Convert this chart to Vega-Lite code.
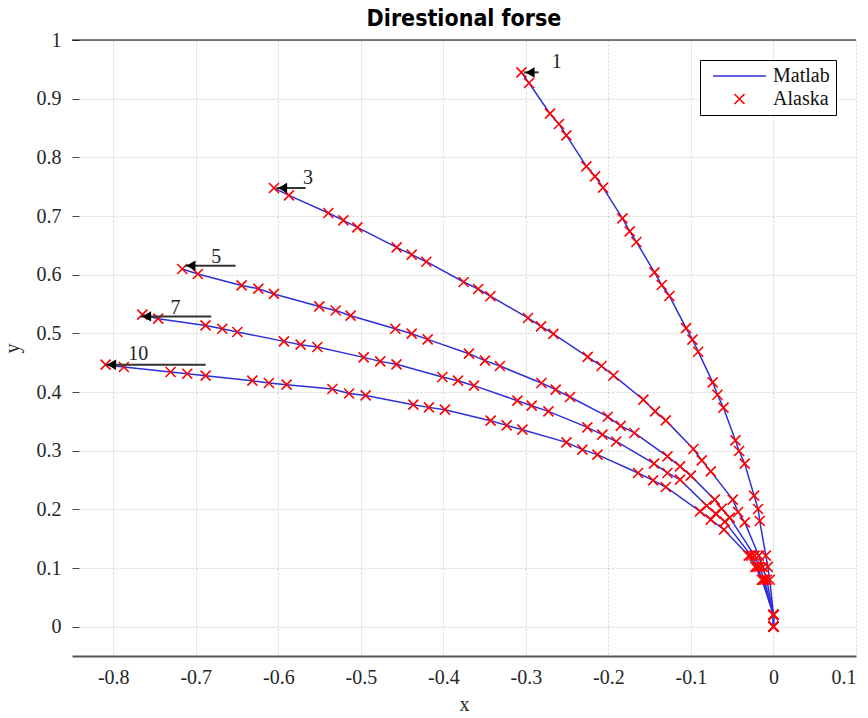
{
  "$schema": "https://vega.github.io/schema/vega-lite/v6.json",
  "width": 784,
  "height": 616,
  "autosize": {"type": "none"},
  "padding": {"left": 72, "top": 40, "right": 12, "bottom": 62},
  "background": "white",
  "config": {"view": {"stroke": null}},
  "title": {"text": "Direstional forse", "font": "Liberation Sans Narrow, DejaVu Sans Condensed, sans-serif", "fontSize": 23, "fontWeight": "bold", "color": "black", "anchor": "middle", "offset": 8, "dy": 9},
  "datasets": {
    "curves": [
      {"c":"1","x":-0.3055,"y":0.9448},{"c":"1","x":-0.2962,"y":0.9267},{"c":"1","x":-0.2708,"y":0.8744},{"c":"1","x":-0.2599,"y":0.8568},{"c":"1","x":-0.2509,"y":0.8374},{"c":"1","x":-0.2267,"y":0.7846},{"c":"1","x":-0.2162,"y":0.7675},{"c":"1","x":-0.2065,"y":0.7483},{"c":"1","x":-0.1830,"y":0.6959},{"c":"1","x":-0.1742,"y":0.6738},{"c":"1","x":-0.1661,"y":0.6557},{"c":"1","x":-0.1442,"y":0.6039},{"c":"1","x":-0.1354,"y":0.5824},{"c":"1","x":-0.1261,"y":0.5637},{"c":"1","x":-0.1059,"y":0.5088},{"c":"1","x":-0.0982,"y":0.4892},{"c":"1","x":-0.0912,"y":0.4687},{"c":"1","x":-0.0736,"y":0.4164},{"c":"1","x":-0.0679,"y":0.3954},{"c":"1","x":-0.0606,"y":0.3733},{"c":"1","x":-0.0461,"y":0.3175},{"c":"1","x":-0.0417,"y":0.2995},{"c":"1","x":-0.0348,"y":0.2778},{"c":"1","x":-0.0235,"y":0.2233},{"c":"1","x":-0.0187,"y":0.2006},{"c":"1","x":-0.0166,"y":0.1802},{"c":"1","x":-0.0093,"y":0.121},{"c":"1","x":-0.0069,"y":0.102},{"c":"1","x":-0.0045,"y":0.080},{"c":"1","x":0,"y":0.02},{"c":"1","x":0,"y":0},
      {"c":"3","x":-0.6053,"y":0.7477},{"c":"3","x":-0.5871,"y":0.7351},{"c":"3","x":-0.5394,"y":0.7051},{"c":"3","x":-0.5212,"y":0.6925},{"c":"3","x":-0.5042,"y":0.6806},{"c":"3","x":-0.4566,"y":0.6465},{"c":"3","x":-0.4384,"y":0.6341},{"c":"3","x":-0.4206,"y":0.6221},{"c":"3","x":-0.3754,"y":0.5875},{"c":"3","x":-0.3578,"y":0.5756},{"c":"3","x":-0.3430,"y":0.5633},{"c":"3","x":-0.2975,"y":0.5262},{"c":"3","x":-0.2817,"y":0.5118},{"c":"3","x":-0.2667,"y":0.4991},{"c":"3","x":-0.2251,"y":0.4599},{"c":"3","x":-0.2084,"y":0.4443},{"c":"3","x":-0.1939,"y":0.4282},{"c":"3","x":-0.1576,"y":0.3869},{"c":"3","x":-0.1435,"y":0.3670},{"c":"3","x":-0.1305,"y":0.3516},{"c":"3","x":-0.0970,"y":0.3029},{"c":"3","x":-0.0869,"y":0.2834},{"c":"3","x":-0.0760,"y":0.2647},{"c":"3","x":-0.0493,"y":0.2165},{"c":"3","x":-0.0429,"y":0.1955},{"c":"3","x":-0.0348,"y":0.1778},{"c":"3","x":-0.0178,"y":0.121},{"c":"3","x":-0.0130,"y":0.102},{"c":"3","x":-0.0081,"y":0.080},{"c":"3","x":0,"y":0.02},{"c":"3","x":0,"y":0},
      {"c":"5","x":-0.7164,"y":0.6097},{"c":"5","x":-0.6975,"y":0.6012},{"c":"5","x":-0.6445,"y":0.5817},{"c":"5","x":-0.6242,"y":0.5761},{"c":"5","x":-0.6053,"y":0.5672},{"c":"5","x":-0.5503,"y":0.5459},{"c":"5","x":-0.5305,"y":0.5389},{"c":"5","x":-0.5124,"y":0.5301},{"c":"5","x":-0.4582,"y":0.5079},{"c":"5","x":-0.4384,"y":0.4994},{"c":"5","x":-0.4190,"y":0.4897},{"c":"5","x":-0.3690,"y":0.4653},{"c":"5","x":-0.3496,"y":0.4534},{"c":"5","x":-0.3315,"y":0.4443},{"c":"5","x":-0.2812,"y":0.4154},{"c":"5","x":-0.2639,"y":0.4040},{"c":"5","x":-0.2465,"y":0.3915},{"c":"5","x":-0.2008,"y":0.3579},{"c":"5","x":-0.1851,"y":0.3423},{"c":"5","x":-0.1685,"y":0.3302},{"c":"5","x":-0.1285,"y":0.2903},{"c":"5","x":-0.1132,"y":0.2732},{"c":"5","x":-0.1002,"y":0.2574},{"c":"5","x":-0.0712,"y":0.2165},{"c":"5","x":-0.0627,"y":0.2011},{"c":"5","x":-0.0530,"y":0.1858},{"c":"5","x":-0.0230,"y":0.121},{"c":"5","x":-0.0170,"y":0.102},{"c":"5","x":-0.0110,"y":0.080},{"c":"5","x":0,"y":0.02},{"c":"5","x":0,"y":0},
      {"c":"7","x":-0.7648,"y":0.5318},{"c":"7","x":-0.7455,"y":0.5250},{"c":"7","x":-0.6882,"y":0.5135},{"c":"7","x":-0.6679,"y":0.5079},{"c":"7","x":-0.6497,"y":0.5023},{"c":"7","x":-0.5932,"y":0.4863},{"c":"7","x":-0.5730,"y":0.4807},{"c":"7","x":-0.5527,"y":0.4767},{"c":"7","x":-0.4966,"y":0.4590},{"c":"7","x":-0.4765,"y":0.4522},{"c":"7","x":-0.4568,"y":0.4472},{"c":"7","x":-0.4012,"y":0.4256},{"c":"7","x":-0.3823,"y":0.4193},{"c":"7","x":-0.3629,"y":0.4108},{"c":"7","x":-0.3103,"y":0.3852},{"c":"7","x":-0.2930,"y":0.3767},{"c":"7","x":-0.2727,"y":0.3670},{"c":"7","x":-0.2255,"y":0.3397},{"c":"7","x":-0.2073,"y":0.3273},{"c":"7","x":-0.1905,"y":0.3157},{"c":"7","x":-0.1447,"y":0.2778},{"c":"7","x":-0.1285,"y":0.2620},{"c":"7","x":-0.1132,"y":0.2506},{"c":"7","x":-0.0808,"y":0.2062},{"c":"7","x":-0.0700,"y":0.1926},{"c":"7","x":-0.0590,"y":0.1790},{"c":"7","x":-0.0270,"y":0.121},{"c":"7","x":-0.0200,"y":0.102},{"c":"7","x":-0.0130,"y":0.080},{"c":"7","x":0,"y":0.02},{"c":"7","x":0,"y":0},
      {"c":"10","x":-0.8093,"y":0.4466},{"c":"10","x":-0.7872,"y":0.4426},{"c":"10","x":-0.7305,"y":0.4341},{"c":"10","x":-0.7103,"y":0.4312},{"c":"10","x":-0.6881,"y":0.4278},{"c":"10","x":-0.6315,"y":0.4193},{"c":"10","x":-0.6114,"y":0.4154},{"c":"10","x":-0.5899,"y":0.4125},{"c":"10","x":-0.5345,"y":0.4051},{"c":"10","x":-0.5142,"y":0.3975},{"c":"10","x":-0.4942,"y":0.3942},{"c":"10","x":-0.4364,"y":0.3784},{"c":"10","x":-0.4175,"y":0.3738},{"c":"10","x":-0.3981,"y":0.3699},{"c":"10","x":-0.3427,"y":0.3511},{"c":"10","x":-0.3233,"y":0.3431},{"c":"10","x":-0.3042,"y":0.3358},{"c":"10","x":-0.2509,"y":0.3141},{"c":"10","x":-0.2315,"y":0.3017},{"c":"10","x":-0.2133,"y":0.2932},{"c":"10","x":-0.1641,"y":0.2620},{"c":"10","x":-0.1459,"y":0.2494},{"c":"10","x":-0.1305,"y":0.2381},{"c":"10","x":-0.0890,"y":0.1965},{"c":"10","x":-0.0760,"y":0.1824},{"c":"10","x":-0.0599,"y":0.1653},{"c":"10","x":-0.0300,"y":0.121},{"c":"10","x":-0.0220,"y":0.102},{"c":"10","x":-0.0140,"y":0.080},{"c":"10","x":0,"y":0.02},{"c":"10","x":0,"y":0}
    ],
    "arrows": [
      {"label":"1","x0":-0.3023,"x1":-0.2845,"y":0.9448,"lx":-0.2627,"ly":0.9618},
      {"label":"3","x0":-0.6021,"x1":-0.5669,"y":0.7477,"lx":-0.5641,"ly":0.7648},
      {"label":"5","x0":-0.7132,"x1":-0.6518,"y":0.6153,"lx":-0.6752,"ly":0.6301},
      {"label":"7","x0":-0.7669,"x1":-0.6812,"y":0.5289,"lx":-0.7245,"ly":0.5432},
      {"label":"10","x0":-0.8093,"x1":-0.6881,"y":0.4466,"lx":-0.7697,"ly":0.4648}
    ]
  },
  "layer": [
    {
      "data": {"name": "curves"},
      "mark": {"type": "line", "strokeWidth": 1.5, "clip": true},
      "encoding": {
        "x": {"field": "x", "type": "quantitative", "scale": {"domain": [-0.85, 0.1], "nice": false, "zero": false},
          "axis": {"title": "x", "values": [-0.8,-0.7,-0.6,-0.5,-0.4,-0.3,-0.2,-0.1,0,0.1], "format": "~g", "labelExpr": "replace(datum.label, '\u2212', '-')", "grid": true, "gridColor": "#d4d4d4", "gridDash": [2,2], "gridWidth": 1, "ticks": false, "domainColor": "#555555", "domainWidth": 2, "labelFont": "Liberation Serif", "labelFontSize": 20, "labelColor": "#262626", "labelPadding": 11, "titleFont": "Liberation Serif", "titleFontSize": 20, "titleFontWeight": "normal", "titleColor": "#262626", "titlePadding": 7}},
        "y": {"field": "y", "type": "quantitative", "scale": {"domain": [-0.05, 1], "nice": false, "zero": false},
          "axis": {"title": "y", "values": [0,0.1,0.2,0.3,0.4,0.5,0.6,0.7,0.8,0.9,1], "format": "~g", "grid": true, "gridColor": "#d4d4d4", "gridDash": [2,2], "gridWidth": 1, "domain": false, "ticks": true, "tickSize": -7, "tickColor": "#444444", "tickWidth": 1, "labelFont": "Liberation Serif", "labelFontSize": 20, "labelColor": "#262626", "labelPadding": 18, "titleFont": "Liberation Serif", "titleFontSize": 20, "titleFontWeight": "normal", "titleColor": "#262626", "titlePadding": 14}},
        "detail": {"field": "c"},
        "order": {"value": null},
        "color": {"datum": "Matlab", "type": "nominal", "scale": {"domain": ["Matlab", "Alaska"], "range": ["#2f2fd8", "#ff0000"]},
          "legend": {"title": null, "orient": "top-right", "offset": 20, "strokeColor": "black", "fillColor": "white", "padding": 6, "labelFont": "Liberation Serif", "labelFontSize": 20, "labelColor": "#111111", "labelOffset": 47, "labelExpr": "datum.label + '\u00a0\u00a0'", "rowPadding": 3, "symbolStrokeWidth": 1.6,
            "encode": {"symbols": {"update": {"shape": {"signal": "datum.value === 'Matlab' ? 'stroke' : 'M-1,-1L1,1M-1,1L1,-1'"}, "size": {"signal": "datum.value === 'Matlab' ? 2800 : 100"}, "x": {"value": 33.5}, "strokeWidth": {"value": 1.6}}}}}}
      }
    },
    {
      "data": {"name": "curves"},
      "mark": {"type": "point", "filled": false, "shape": "M-1,-1L1,1M-1,1L1,-1", "size": 100, "strokeWidth": 1.6, "opacity": 1},
      "encoding": {
        "x": {"field": "x", "type": "quantitative"},
        "y": {"field": "y", "type": "quantitative"},
        "color": {"datum": "Alaska", "type": "nominal"}
      }
    },
    {
      "data": {"values": [{"v": 1}]},
      "mark": {"type": "rule", "color": "black", "strokeWidth": 1.2},
      "encoding": {"y": {"field": "v", "type": "quantitative"}}
    },
    {
      "data": {"name": "arrows"},
      "mark": {"type": "rule", "color": "#333333", "strokeWidth": 2},
      "encoding": {
        "x": {"field": "x0", "type": "quantitative"},
        "x2": {"field": "x1"},
        "y": {"field": "y", "type": "quantitative"}
      }
    },
    {
      "data": {"name": "arrows"},
      "mark": {"type": "point", "shape": "triangle-left", "filled": true, "color": "black", "size": 110, "xOffset": 6, "opacity": 1},
      "encoding": {
        "x": {"field": "x0", "type": "quantitative"},
        "y": {"field": "y", "type": "quantitative"}
      }
    },
    {
      "data": {"name": "arrows"},
      "mark": {"type": "text", "font": "Liberation Serif", "fontSize": 20, "color": "#222222", "align": "center", "baseline": "middle"},
      "encoding": {
        "x": {"field": "lx", "type": "quantitative"},
        "y": {"field": "ly", "type": "quantitative"},
        "text": {"field": "label"}
      }
    }
  ]
}
